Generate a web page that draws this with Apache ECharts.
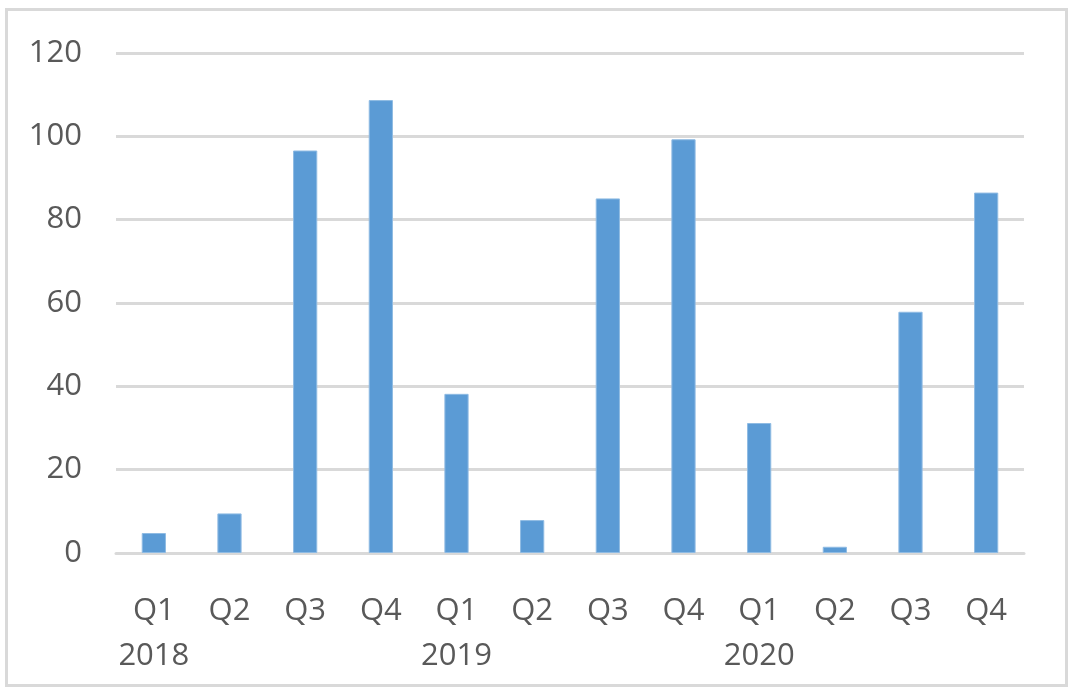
<!DOCTYPE html>
<html>
<head>
<meta charset="utf-8">
<script src="https://cdn.jsdelivr.net/npm/echarts@6/dist/echarts.min.js"></script>
<style>
  html, body { margin: 0; padding: 0; background: #fff; }
  #chart { width: 1075px; height: 692px; }
</style>
</head>
<body>
<div id="chart"></div>
<script>
const quarters = ['Q1\n2018', 'Q2', 'Q3', 'Q4', 'Q1\n2019', 'Q2', 'Q3', 'Q4', 'Q1\n2020', 'Q2', 'Q3', 'Q4']
const values = [4.8, 9.5, 96.6, 108.7, 38.2, 7.9, 85.1, 99.3, 31.2, 1.5, 57.9, 86.5]
const yTicks = { min: 0, max: 120, interval: 20 }

const chart = echarts.init(document.getElementById('chart'))

const option = {
  animation: false,
  textStyle: { fontFamily: 'Open Sans' },
  graphic: [{
    type: 'rect',
    shape: { x: 6.5, y: 9.5, width: 1060, height: 676 },
    style: { fill: 'none', stroke: '#d9d9d9', lineWidth: 3 }
  }],
  grid: { left: 116, right: 51, top: 53, bottom: 139 },
  xAxis: {
    type: 'category',
    data: quarters,
    axisLine: { lineStyle: { color: '#d9d9d9', width: 3 } },
    axisTick: { show: false },
    axisLabel: {
      interval: 0,
      color: '#595959',
      fontSize: 31,
      lineHeight: 45,
      margin: 36,
      align: 'center'
    }
  },
  yAxis: {
    type: 'value',
    min: yTicks.min,
    max: yTicks.max,
    interval: yTicks.interval,
    axisLine: { show: false },
    axisTick: { show: false },
    splitLine: { lineStyle: { color: '#d9d9d9', width: 3 } },
    axisLabel: {
      color: '#595959',
      fontSize: 31,
      margin: 34,
      padding: [14, 0, 0, 0]
    }
  },
  series: [{
    type: 'bar',
    data: values,
    barWidth: '32%',
    itemStyle: { color: '#5b9bd5', borderColor: '#8fbbe3', borderWidth: 1 }
  }]
}

chart.setOption(option)
</script>
</body>
</html>
